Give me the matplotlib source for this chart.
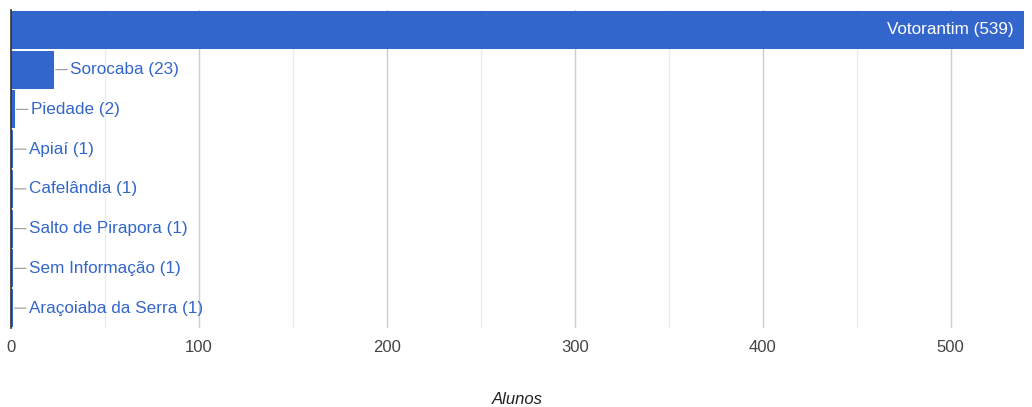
import matplotlib.pyplot as plt

cidades = ['Votorantim', 'Sorocaba', 'Piedade', 'Apiaí', 'Cafelândia',
           'Salto de Pirapora', 'Sem Informação', 'Araçoiaba da Serra']
alunos = [539, 23, 2, 1, 1, 1, 1, 1]

plt.rcParams['font.family'] = ['Liberation Sans', 'DejaVu Sans']

fig = plt.figure(figsize=(10.32, 4.07), dpi=100)
ax = fig.add_axes([11 / 1032, 1 - 328 / 407, (1024 - 11) / 1032, 318 / 407])

azul = '#3366cc'
pos = list(range(len(cidades)))
ax.barh(pos, alunos, height=0.96, color=azul, zorder=3)
ax.set_ylim(len(cidades) - 0.5, -0.5)
ax.set_xlim(0, 539)

for i, (c, v) in enumerate(zip(cidades, alunos)):
    txt = f'{c} ({v})'
    if v > 300:
        ax.annotate(txt, (v, i), xytext=(-10, 0), textcoords='offset pixels',
                    ha='right', va='center', color='white', fontsize=12.3, zorder=4)
    else:
        ax.annotate(txt, (v, i), xytext=(16, 0), textcoords='offset pixels',
                    ha='left', va='center', color=azul, fontsize=12.3, zorder=4,
                    arrowprops=dict(arrowstyle='-', color='#999999', lw=0.8,
                                    shrinkA=0, shrinkB=1))

ax.set_xticks([0, 100, 200, 300, 400, 500])
ax.set_xticks([50, 150, 250, 350, 450], minor=True)
ax.grid(axis='x', which='major', color='#cccccc', lw=1, zorder=0)
ax.grid(axis='x', which='minor', color='#ebebeb', lw=1, zorder=0)
ax.tick_params(axis='x', which='both', length=0, pad=9, labelsize=12, labelcolor='#444444')
ax.set_yticks([])
for s in ['top', 'right', 'bottom']:
    ax.spines[s].set_visible(False)
ax.spines['left'].set_color('#333333')
ax.spines['left'].set_linewidth(1.2)
ax.spines['left'].set_zorder(5)

# eixo x: título centralizado abaixo dos ticks
fig.text(517 / 1032, 1 - 399 / 407, 'Alunos', ha='center', va='center',
         fontsize=12, style='italic', color='#222222')

fig.savefig('out.png', dpi=100)
